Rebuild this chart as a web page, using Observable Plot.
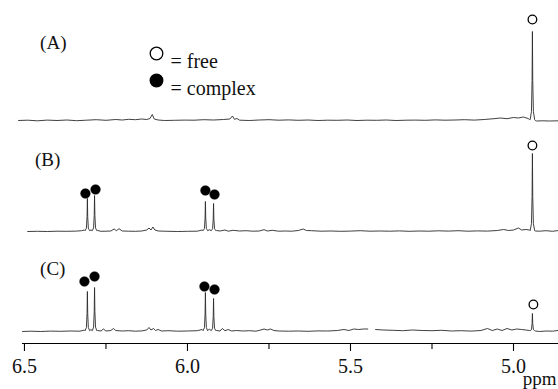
<!DOCTYPE html>
<html><head><meta charset="utf-8">
<script src="https://cdn.jsdelivr.net/npm/d3@7"></script>
<script src="https://cdn.jsdelivr.net/npm/@observablehq/plot@0.6"></script>
<style>
body{margin:0;background:#fff}
#chart svg{display:block}
#chart svg text{font-family:'Liberation Serif','Times New Roman','DejaVu Serif',serif}
</style>
</head><body><div id="chart"></div>
<script>
// ---------- data ----------
const traces = ["A", "B", "C"];
const traceLabels = ["(A)", "(B)", "(C)"];

// baseline noise, [ppm, intensity]
const noiseA = [[6.518,0],[6.49,0.3],[6.46,-0.3],[6.43,0.4],[6.40,0],[6.37,0.5],[6.34,-0.2],[6.31,0.3],[6.28,0.8],[6.25,0.2],[6.22,1],[6.20,0.5],[6.18,1.2],[6.16,0.8],[6.14,1.5],[6.125,1],[6.115,2],[6.108,6],[6.102,1.5],[6.09,0.5],[6.07,0],[6.04,0.2],[6.01,0.4],[5.98,0.3],[5.95,0.8],[5.92,0.5],[5.89,1],[5.87,1.5],[5.862,4.5],[5.856,1.2],[5.848,2],[5.84,0.3],[5.81,0],[5.78,0.5],[5.75,0.8],[5.72,0.3],[5.69,0.6],[5.66,0.2],[5.63,0.5],[5.60,0],[5.57,0.3],[5.54,0.2],[5.51,0.5],[5.48,0],[5.45,0.3],[5.42,0.2],[5.39,0.5],[5.36,0],[5.33,0.3],[5.30,0.4],[5.27,0.2],[5.24,0.6],[5.21,0.3],[5.18,0.5],[5.15,0.8],[5.12,0.4],[5.09,1],[5.06,1.8],[5.04,2.5],[5.02,1.8],[5.00,3],[4.985,2.5],[4.97,3.5],[4.955,2],[4.951,1],[4.933,0],[4.93,-0.5],[4.91,-0.3],[4.89,-0.5],[4.862,-0.3]];
const noiseB = [[6.49,0],[6.46,0.2],[6.43,0],[6.40,0.3],[6.37,0.2],[6.34,0.4],[6.325,0.8],[6.316,1.5],[6.296,1.5],[6.276,1],[6.265,0.2],[6.25,0.3],[6.235,0.5],[6.225,2.5],[6.218,0.8],[6.21,2.8],[6.20,0.5],[6.18,0.3],[6.16,0.2],[6.14,0.5],[6.125,1.5],[6.118,3.5],[6.112,1.5],[6.106,4.5],[6.10,1.5],[6.09,0.5],[6.06,0.2],[6.03,0],[6.00,0.2],[5.97,0.3],[5.955,1.5],[5.933,1.8],[5.911,1],[5.90,0.5],[5.885,1.5],[5.875,0.3],[5.86,1.2],[5.84,0.5],[5.82,0.8],[5.80,0.3],[5.78,0.5],[5.765,1.8],[5.755,0.5],[5.74,1.2],[5.72,0.3],[5.70,0.5],[5.68,0.3],[5.66,1],[5.645,2.5],[5.635,1],[5.62,0.8],[5.59,0.3],[5.56,0.5],[5.53,0.2],[5.50,0.4],[5.47,0.8],[5.44,0.3],[5.41,0.5],[5.38,0.3],[5.35,0.6],[5.32,0.2],[5.29,0.5],[5.26,0.3],[5.23,0.7],[5.20,0.4],[5.17,0.8],[5.14,0.3],[5.11,0.6],[5.08,0.4],[5.05,1],[5.03,2],[5.015,1],[5.00,1.5],[4.985,3.5],[4.975,1.5],[4.962,2],[4.951,1.5],[4.933,0.5],[4.92,0.3],[4.90,0.8],[4.88,0.2],[4.862,1]];
const noiseC = [[6.506,0],[6.48,0.3],[6.45,0],[6.42,0.4],[6.39,0.2],[6.36,0.5],[6.33,0.3],[6.316,1.5],[6.296,2],[6.276,1],[6.265,0.5],[6.258,2.5],[6.25,0.5],[6.235,1],[6.227,3],[6.22,1],[6.20,0.5],[6.18,0.8],[6.16,0.3],[6.14,0.6],[6.125,1.5],[6.118,4],[6.112,1.5],[6.104,3],[6.098,1],[6.09,2],[6.08,0.5],[6.06,0.8],[6.03,0.3],[6.00,0.5],[5.97,0.8],[5.955,2],[5.933,2.5],[5.911,1],[5.90,0.5],[5.893,3],[5.885,0.8],[5.875,2],[5.865,0.5],[5.85,1],[5.83,0.5],[5.81,0.8],[5.79,0.3],[5.775,1.5],[5.765,2.5],[5.755,1.5],[5.745,2.5],[5.735,1],[5.72,0.5],[5.69,0.3],[5.66,0.5],[5.63,0.2],[5.60,0.6],[5.57,0.5],[5.54,1],[5.52,2],[5.505,1],[5.49,2.5],[5.475,2],[5.46,2.5],[5.447,2.5],[5.444,null],[5.423,2],[5.40,1.5],[5.37,1.2],[5.34,0.8],[5.31,1.5],[5.28,1],[5.25,0.8],[5.22,1.2],[5.19,0.5],[5.16,0.8],[5.13,0.4],[5.10,1],[5.08,3],[5.065,1],[5.05,2.5],[5.035,1],[5.02,3],[5.005,1.5],[4.99,2.5],[4.975,2],[4.962,1.5],[4.951,1],[4.933,0.5],[4.92,0],[4.90,0.5],[4.88,0.3],[4.864,1]];

// sharp peaks, [ppm, height]
const peaksA = [[4.942, 89]];
const peaksB = [[6.307, 33], [6.285, 36], [5.945, 30], [5.920, 28], [4.942, 78]];
const peaksC = [[6.307, 40], [6.285, 44], [5.945, 39], [5.920, 33], [4.942, 18]];

// markers above peaks, [ppm, height, kind]
const markersA = [[4.942, 101, "free"]];
const markersB = [[6.313, 38, "complex"], [6.282, 42, "complex"], [5.945, 41, "complex"], [5.917, 37, "complex"], [4.942, 86, "free"]];
const markersC = [[6.316, 50, "complex"], [6.285, 55, "complex"], [5.948, 45, "complex"], [5.917, 42, "complex"], [4.939, 27, "free"]];

const majorTicks = [6.5, 6.0, 5.5, 5.0];
const minorTicks = [6.25, 5.75, 5.25];
const legendKinds = ["free", "complex"];
const legendTexts = ["= free", "= complex"];
const axisTitle = "ppm";

// ---------- build tables ----------
const offset = {A: 211, B: 100, C: 0};
const noise = {A: noiseA, B: noiseB, C: noiseC};
const peaks = {A: peaksA, B: peaksB, C: peaksC};
const markers = {A: markersA, B: markersB, C: markersC};

// fixed narrow line shape drawn around each read peak
const shape = [[-0.007, 0], [-0.003, 0.1], [-0.001, 0.45], [0, 1], [0.001, 0.45], [0.003, 0.1], [0.007, 0]];
const rows = [];
for (const t of traces) {
  const pts = noise[t].map(([p, v]) => ({trace: t, ppm: p, v}));
  for (const [p, h] of peaks[t]) {
    for (const [dp, f] of shape) pts.push({trace: t, ppm: p + dp, v: f === 0 ? 0.8 : h * f});
  }
  pts.sort((a, b) => b.ppm - a.ppm);
  rows.push(...pts);
}
const markerRows = traces.flatMap(t => markers[t].map(([p, h, k]) => ({trace: t, ppm: p, h, kind: k})));

const labelPos = {A: [6.452, 78], B: [6.468, 72], C: [6.452, 63]};
const legendY = [53, 80];
const font = "'Liberation Serif', 'Times New Roman', 'DejaVu Serif', serif";

const chart = Plot.plot({
  width: 558,
  height: 389,
  marginLeft: 22,
  marginRight: 0,
  marginTop: 0,
  marginBottom: 46,
  style: {fontFamily: font, background: "#fff", color: "#111"},
  x: {domain: [6.506, 4.862], label: null},
  y: {domain: [-12, 331], range: [343, 0], axis: null},
  marks: [
    Plot.line(rows, {
      x: "ppm",
      y: d => d.v == null ? NaN : d.v + offset[d.trace],
      z: "trace",
      stroke: "#2a2a2a",
      strokeWidth: 0.9
    }),
    Plot.dot(markerRows.filter(d => d.kind === "complex"), {
      x: "ppm", y: d => d.h + offset[d.trace], r: 4.8, fill: "#000", stroke: "#000", strokeWidth: 0.5
    }),
    Plot.dot(markerRows.filter(d => d.kind === "free"), {
      x: "ppm", y: d => d.h + offset[d.trace], r: 4.3, fill: "#fff", stroke: "#000", strokeWidth: 1.3
    }),
    Plot.text(traces, {
      x: d => labelPos[d][0],
      y: d => labelPos[d][1] + offset[d],
      text: (d, i) => traceLabels[i],
      textAnchor: "start",
      fontSize: 19,
      fill: "#111"
    }),
    // legend symbols and texts
    ...legendKinds.map((k, i) => Plot.dot([k], {
      frameAnchor: "top-left", dx: 134, dy: legendY[i], r: 6.3,
      fill: k === "free" ? "#fff" : "#000", stroke: "#000", strokeWidth: 1.3
    })),
    ...legendTexts.map((t, i) => Plot.text([t], {
      frameAnchor: "top-left", dx: 148, dy: legendY[i], textAnchor: "start",
      fontSize: 20, fill: "#111"
    })),
    Plot.ruleY([-12], {stroke: "#000", strokeWidth: 1.2}),
    Plot.axisX(majorTicks, {tickSize: 8, tickPadding: 7, tickFormat: d3.format(".1f"), fontSize: 20, stroke: "#000", strokeWidth: 1.1, fill: "#111", label: null}),
    Plot.axisX(minorTicks, {tickSize: 6, tickFormat: () => "", stroke: "#000", strokeWidth: 1.1, label: null}),
    Plot.text([axisTitle], {frameAnchor: "bottom-right", dx: -2, dy: 41, textAnchor: "end", lineAnchor: "bottom", fontSize: 19, fill: "#111"})
  ]
});
document.getElementById("chart").appendChild(chart);
</script>
</body></html>
